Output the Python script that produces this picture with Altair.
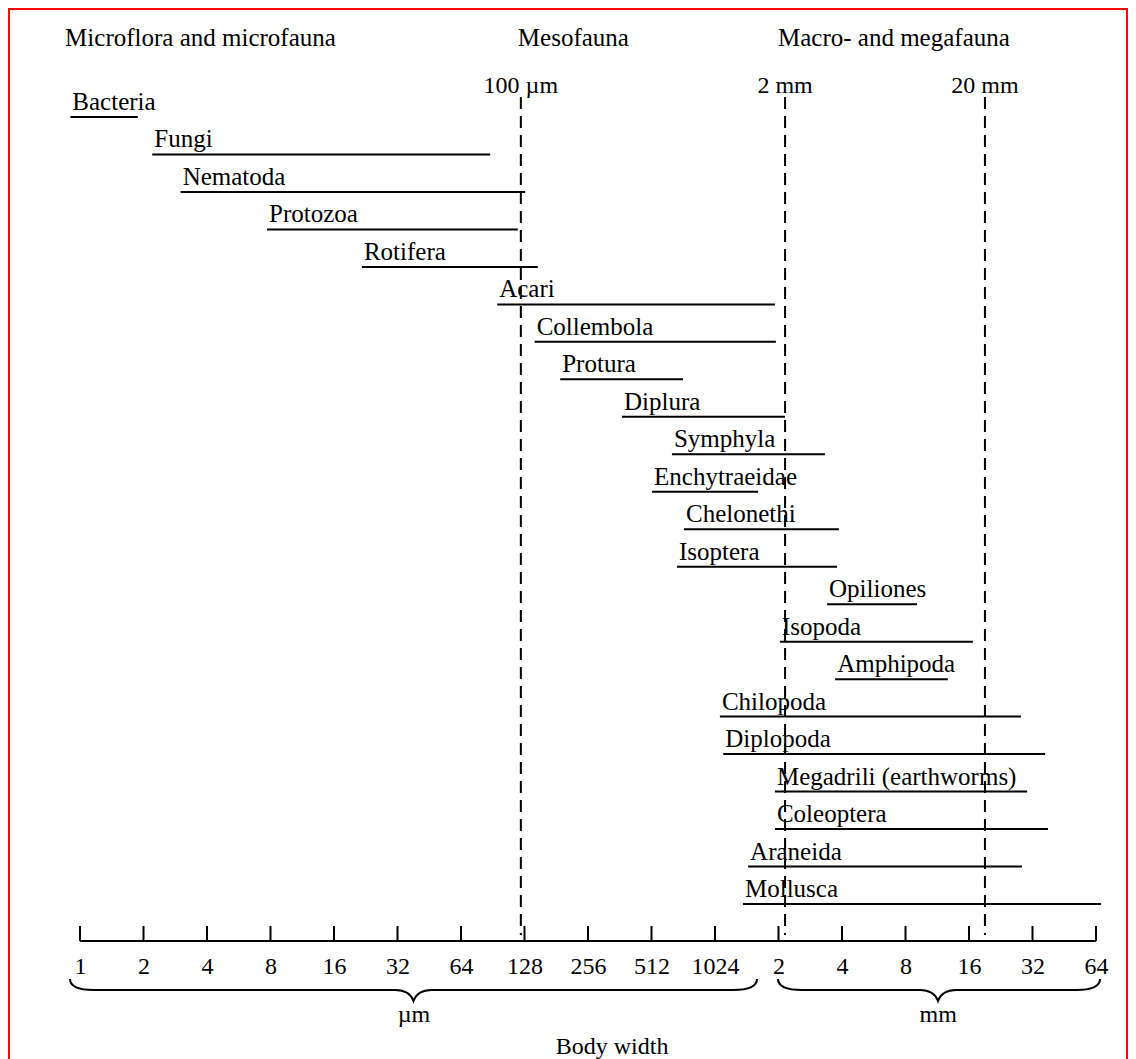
import altair as alt
import pandas as pd

# ---- data (body widths in micrometres) ----
taxa = ["Bacteria", "Fungi", "Nematoda", "Protozoa", "Rotifera", "Acari",
        "Collembola", "Protura", "Diplura", "Symphyla", "Enchytraeidae",
        "Chelonethi", "Isoptera", "Opiliones", "Isopoda", "Amphipoda",
        "Chilopoda", "Diplopoda", "Megadrili (earthworms)", "Coleoptera",
        "Araneida", "Mollusca"]
width_min = [0.9, 2.2, 3.0, 7.7, 21.7, 95, 143, 189, 371, 640, 515,
             730, 676, 3480, 2080, 3800, 1080, 1120, 1970, 1970, 1470, 1390]
width_max = [1.88, 88, 129, 119, 148, 1970, 1990, 722, 2200, 3400, 1640,
             3960, 3880, 9290, 17100, 13000, 28900, 37600, 30900, 38800, 29200, 69200]

tick_values = [1, 2, 4, 8, 16, 32, 64, 128, 256, 512, 1024,
               2048, 4096, 8192, 16384, 32768, 65536]
axis_span = [1, 65536]

bound_values = [123, 2200, 19500]
bound_labels = ["100 µm", "2 mm", "20 mm"]

group_labels = ["Microflora and microfauna", "Mesofauna", "Macro- and megafauna"]
group_starts = [0.85, 119, 2037]

unit_labels = ["µm", "mm"]
unit_centers = [38.3, 11700]
brace_centers = [38.1, 11810]

FONT = "Liberation Serif"
FS = 24
FS_LAB = 25

bars = pd.DataFrame({"taxon": taxa, "start": width_min, "end": width_max})
ticks = pd.DataFrame({"v": tick_values})
span = pd.DataFrame({"a": [axis_span[0]], "b": [axis_span[1]]})
bounds = pd.DataFrame({"v": bound_values, "label": bound_labels})
groups = pd.DataFrame({"v": group_starts, "label": group_labels})
units = pd.DataFrame({"v": unit_centers, "label": unit_labels})

xscale = alt.Scale(type="log", base=2, domain=[1, 65536], nice=False)
yscale = alt.Scale(type="point", range=[109, 896], padding=0)

xaxis = alt.Axis(values=tick_values, title=None, grid=False,
                 ticks=False, domain=False,
                 labelExpr="datum.value >= 2048 ? datum.value / 1024 : datum.value",
                 labelFont=FONT, labelFontSize=FS, labelColor="black",
                 labelBaseline="alphabetic", labelPadding=32,
                 labelOverlap=False, labelFlush=False, labelBound=False)


def X(field):
    return alt.X(field, scale=xscale, axis=xaxis)


def brace_path(hw, cusp, up=11.0, down=11.0):
    """Curly brace outline, normalised to half-width hw (pixels)."""
    def p(x, y):
        return f"{x / hw:.5f} {y / hw:.5f}"
    return (f"M {p(-hw, -up)} Q {p(-hw, 0)} {p(-hw + 24, 0)} "
            f"L {p(cusp - 18, 0)} Q {p(cusp - 4, 0)} {p(cusp, down)} "
            f"Q {p(cusp + 4, 0)} {p(cusp + 18, 0)} "
            f"L {p(hw - 24, 0)} Q {p(hw, 0)} {p(hw, -up)}")


bar_rules = alt.Chart(bars).mark_rule(color="black", strokeWidth=2).encode(
    x=X("start:Q"),
    x2="end:Q",
    y=alt.Y("taxon:N", sort=taxa, scale=yscale, axis=None),
)

bar_text = alt.Chart(bars).mark_text(
    align="left", baseline="alphabetic", dx=2, dy=-7,
    font=FONT, fontSize=FS_LAB, color="black"
).encode(
    x=X("start:Q"),
    y=alt.Y("taxon:N", sort=taxa, scale=yscale, axis=None),
    text="taxon:N",
)

axis_line = alt.Chart(span).mark_rule(color="black", strokeWidth=2).encode(
    x=X("a:Q"), x2="b:Q", y=alt.value(933),
)

tick_marks = alt.Chart(ticks).mark_rule(color="black", strokeWidth=2).encode(
    x=X("v:Q"),
    y=alt.value(918),
    y2=alt.value(933),
)

bound_lines = alt.Chart(bounds).mark_rule(
    color="black", strokeWidth=2, strokeDash=[12, 7]
).encode(
    x=X("v:Q"),
    y=alt.value(89),
    y2=alt.value(927),
)

bound_text = alt.Chart(bounds).mark_text(
    align="center", baseline="alphabetic", font=FONT, fontSize=FS, color="black"
).encode(
    x=X("v:Q"),
    y=alt.value(85),
    text="label:N",
)

group_text = alt.Chart(groups).mark_text(
    align="left", baseline="alphabetic", font=FONT, fontSize=FS_LAB, color="black"
).encode(
    x=X("v:Q"),
    y=alt.value(38),
    text="label:N",
)

unit_text = alt.Chart(units).mark_text(
    align="center", baseline="middle", font=FONT, fontSize=FS, color="black"
).encode(
    x=X("v:Q"),
    y=alt.value(1007),
    text="label:N",
)

brace_um = alt.Chart(pd.DataFrame({"v": [brace_centers[0]]})).mark_point(
    shape=brace_path(343.5, 0.0), size=687.0 ** 2, filled=False,
    color="black", strokeWidth=2, opacity=1
).encode(x=X("v:Q"), y=alt.value(982))

brace_mm = alt.Chart(pd.DataFrame({"v": [brace_centers[1]]})).mark_point(
    shape=brace_path(161.0, -1.0), size=322.0 ** 2, filled=False,
    color="black", strokeWidth=2, opacity=1
).encode(x=X("v:Q"), y=alt.value(982))

title_text = alt.Chart(pd.DataFrame({"v": [333], "label": ["Body width"]})).mark_text(
    align="center", baseline="middle", font=FONT, fontSize=FS, color="black"
).encode(
    x=X("v:Q"),
    y=alt.value(1039),
    text="label:N",
)

frame = alt.Chart(pd.DataFrame({"k": [0]})).mark_rect(
    fillOpacity=0, stroke="#ff0000", strokeWidth=2
).encode(
    x=alt.value(-71), x2=alt.value(1047), y=alt.value(1), y2=alt.value(1300)
)

chart = alt.layer(
    axis_line, frame, bound_lines, bar_rules, bar_text, tick_marks, bound_text,
    group_text, unit_text, brace_um, brace_mm, title_text
).properties(
    width=1016, height=933,
    autosize=alt.AutoSizeParams(type="none"),
    padding={"left": 72, "right": 32, "top": 0, "bottom": 126},
    background="white",
).configure_view(strokeWidth=0)

chart.save("out.html", embed_options={"renderer": "svg", "actions": False})
